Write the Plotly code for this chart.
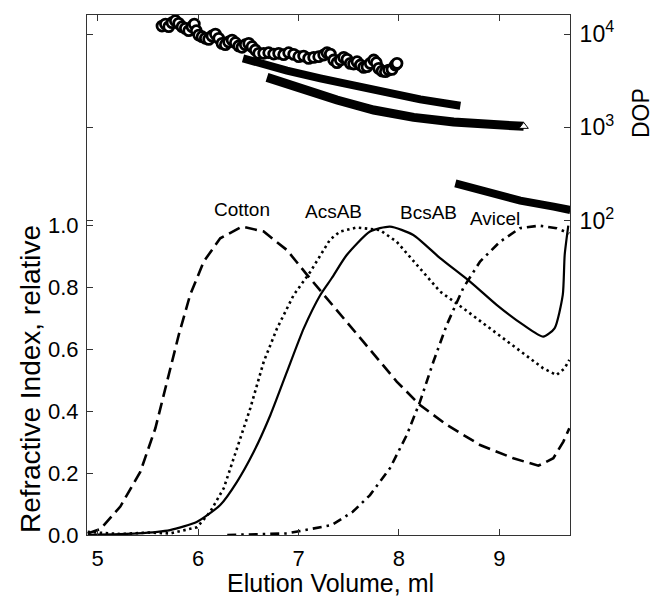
import plotly.graph_objects as go

# ---------------- Refractive index traces (left axis) ----------------
cotton_x = [4.90, 5.03, 5.225, 5.425, 5.574, 5.69, 5.807, 5.92, 6.056, 6.22, 6.437, 6.653, 6.885,
            7.085, 7.314, 7.645, 7.978, 8.21, 8.476, 8.808, 9.14, 9.389, 9.538, 9.638, 9.697]
cotton_y = [0.005, 0.02, 0.092, 0.205, 0.345, 0.496, 0.647, 0.776, 0.884, 0.959, 0.997, 0.981, 0.921,
            0.841, 0.754, 0.625, 0.496, 0.42, 0.356, 0.291, 0.248, 0.224, 0.248, 0.302, 0.345]

acsab_x = [4.90, 5.225, 5.5, 5.72, 5.99, 6.12, 6.255, 6.387, 6.52, 6.653, 6.786, 6.952, 7.118,
           7.314, 7.413, 7.58, 7.81, 7.978, 8.177, 8.41, 8.64, 8.907, 9.17, 9.437, 9.57, 9.651, 9.697]
acsab_y = [0.01, 0.003, 0.008, 0.005, 0.025, 0.075, 0.151, 0.28, 0.41, 0.56, 0.668, 0.776, 0.851,
           0.955, 0.981, 0.994, 0.986, 0.948, 0.873, 0.787, 0.733, 0.668, 0.604, 0.539, 0.517, 0.539, 0.566]

bcsab_x = [4.90, 5.39, 5.72, 5.99, 6.22, 6.387, 6.554, 6.72, 6.885, 7.052, 7.217, 7.33, 7.48,
           7.712, 7.911, 8.143, 8.41, 8.708, 8.973, 9.239, 9.437, 9.55, 9.632, 9.651, 9.687]
bcsab_y = [0.0, 0.005, 0.016, 0.043, 0.097, 0.172, 0.269, 0.388, 0.528, 0.668, 0.776, 0.83, 0.905,
           0.981, 0.997, 0.970, 0.895, 0.819, 0.744, 0.679, 0.641, 0.668, 0.776, 0.905, 1.0]

avicel_x = [6.29, 6.885, 7.33, 7.54, 7.712, 7.911, 8.078, 8.21, 8.343, 8.476, 8.64, 8.808, 9.007,
            9.206, 9.40, 9.57, 9.697]
avicel_y = [0.0, 0.005, 0.032, 0.075, 0.129, 0.216, 0.323, 0.431, 0.56, 0.679, 0.798, 0.884, 0.948,
            0.992, 1.0, 0.992, 0.975]

# ---------------- DOP traces (right log axis) ----------------
cotton_dop_x = [5.640, 5.674, 5.707, 5.740, 5.773, 5.806, 5.840, 5.873, 5.906, 5.939, 5.962, 5.982,
                6.006, 6.039, 6.072, 6.105, 6.138, 6.172, 6.205, 6.238, 6.271, 6.304, 6.338, 6.371,
                6.404, 6.437, 6.470, 6.504, 6.537, 6.570, 6.603, 6.653, 6.703, 6.753, 6.802, 6.852,
                6.902, 6.952, 7.002, 7.051, 7.101, 7.151, 7.201, 7.251, 7.284, 7.317, 7.350, 7.383,
                7.417, 7.450, 7.483, 7.516, 7.549, 7.583, 7.616, 7.649, 7.682, 7.715, 7.749, 7.775,
                7.799, 7.832, 7.865, 7.898, 7.931, 7.964, 7.981]
cotton_dop = [12180, 12800, 11990, 13230, 13900, 13010, 11990, 11500, 10860, 11990, 12800, 10860,
              9750, 9360, 8990, 8770, 9520, 10000, 8990, 7940, 7690, 8210, 8620, 8080,
              7440, 7200, 7690, 7940, 7320, 6740, 6210, 6210, 6310, 6100, 6210, 6005,
              6310, 6050, 5720, 5810, 5485, 5620, 5720, 5960, 6310, 6100, 5265, 4930,
              5265, 5620, 5350, 4850, 4770, 5050, 4655, 4390, 4465, 4850, 5265, 4930,
              4285, 4010, 3945, 4110, 4180, 4655, 4850]

acsab_dop_x = [6.447, 6.620, 6.885, 7.217, 7.549, 7.882, 8.213, 8.612]
acsab_dop = [5485, 4850, 4045, 3349, 2772, 2312, 1993, 1706]

bcsab_dop_x = [6.686, 7.018, 7.383, 7.749, 8.147, 8.545, 8.877, 9.243]
bcsab_dop = [3432, 2617, 1962, 1532, 1279, 1140, 1085, 1024]

avicel_dop_x = [8.562, 8.877, 9.209, 9.541, 9.707]
avicel_dop = [251, 199, 164, 141, 130]

# ---------------- Labels ----------------
sample_names = ["Cotton", "AcsAB", "BcsAB", "Avicel"]
label_x = [6.434, 7.347, 8.293, 8.957]
label_y = [1.051, 1.045, 1.042, 1.024]

x_ticks = [5, 6, 7, 8, 9]
ri_ticks = [0.0, 0.2, 0.4, 0.6, 0.8, 1.0]
ri_ticktext = ["0.0", "0.2", "0.4", "0.6", "0.8", "1.0"]
dop_ticks = [100, 1000, 10000]
dop_ticktext = ["10<sup>2</sup>", "10<sup>3</sup>", "10<sup>4</sup>"]

FONT = "Arial, Liberation Sans, sans-serif"
INK = "#000000"

fig = go.Figure()

fig.add_trace(go.Scatter(x=cotton_x, y=cotton_y, mode="lines", yaxis="y",
                         line=dict(color=INK, width=2.6, dash="12px,6px")))
fig.add_trace(go.Scatter(x=acsab_x, y=acsab_y, mode="lines", yaxis="y",
                         line=dict(color=INK, width=2.6, dash="2.5px,3.5px")))
fig.add_trace(go.Scatter(x=bcsab_x, y=bcsab_y, mode="lines", yaxis="y",
                         line=dict(color=INK, width=2.2, shape="spline", smoothing=0.6)))
fig.add_trace(go.Scatter(x=avicel_x, y=avicel_y, mode="lines", yaxis="y",
                         line=dict(color=INK, width=2.6, dash="9px,5px,2.5px,5px")))

fig.add_trace(go.Scatter(x=acsab_dop_x, y=acsab_dop, mode="lines", yaxis="y2",
                         line=dict(color=INK, width=8)))
fig.add_trace(go.Scatter(x=bcsab_dop_x, y=bcsab_dop, mode="lines", yaxis="y2",
                         line=dict(color=INK, width=9)))
fig.add_trace(go.Scatter(x=[bcsab_dop_x[-1]], y=[bcsab_dop[-1]], mode="markers", yaxis="y2",
                         marker=dict(symbol="triangle-up", size=8, color="white",
                                     line=dict(color=INK, width=1))))
fig.add_trace(go.Scatter(x=avicel_dop_x, y=avicel_dop, mode="lines", yaxis="y3",
                         line=dict(color=INK, width=8)))
fig.add_trace(go.Scatter(x=cotton_dop_x, y=cotton_dop, mode="markers", yaxis="y2",
                         marker=dict(symbol="circle", size=10, color="white",
                                     line=dict(color=INK, width=2.8))))

for name, lx, ly in zip(sample_names, label_x, label_y):
    fig.add_annotation(x=lx, y=ly, xref="x", yref="y", text=name, showarrow=False,
                       xanchor="center", yanchor="middle",
                       font=dict(family=FONT, size=19, color=INK))

fig.add_annotation(x=-0.118, y=0.30, xref="paper", yref="paper", text="Refractive Index, relative",
                   textangle=-90, showarrow=False, xanchor="center", yanchor="middle",
                   font=dict(family=FONT, size=28, color=INK))
fig.add_annotation(x=0.505, y=-0.092, xref="paper", yref="paper", text="Elution Volume, ml",
                   showarrow=False, xanchor="center", yanchor="middle",
                   font=dict(family=FONT, size=25, color=INK))
fig.add_annotation(x=1.147, y=0.8115, xref="paper", yref="paper", text="DOP",
                   textangle=-90, showarrow=False, xanchor="center", yanchor="middle",
                   font=dict(family=FONT, size=23, color=INK))

axis_line = "#333333"
fig.update_layout(
    width=655, height=598,
    margin=dict(l=87, r=85, t=15, b=63),
    paper_bgcolor="white", plot_bgcolor="white",
    showlegend=False,
    font=dict(family=FONT, color=INK),
    xaxis=dict(range=[4.893, 9.704], tickvals=x_ticks, ticks="inside", ticklen=6,
               tickcolor=axis_line, showline=True, linecolor=axis_line, linewidth=1,
               mirror="ticks", showgrid=False, zeroline=False,
               tickfont=dict(family=FONT, size=22, color=INK), ticklabelstandoff=4),
    yaxis=dict(range=[0, 1.681], tickvals=ri_ticks, ticktext=ri_ticktext, ticks="inside",
               ticklen=6, tickcolor=axis_line, showline=True, linecolor=axis_line, linewidth=1,
               showgrid=False, zeroline=False,
               tickfont=dict(family=FONT, size=22, color=INK), ticklabelstandoff=3),
    yaxis2=dict(overlaying="y", side="right", type="log", range=[-1.370, 4.204],
                tickvals=dop_ticks, ticktext=dop_ticktext, ticks="inside", ticklen=6,
                tickcolor=axis_line, showline=True, linecolor=axis_line, linewidth=1,
                showgrid=False, zeroline=False,
                tickfont=dict(family=FONT, size=23, color=INK), ticklabelstandoff=4),
    yaxis3=dict(overlaying="y", side="left", type="log", range=[-1.370, 4.204],
                tickvals=dop_ticks, ticks="inside", ticklen=6, tickcolor=axis_line,
                showticklabels=False, showline=False, showgrid=False, zeroline=False),
)

# remove the browser's default 8 px body margin so the figure fills the window exactly
fig.write_html("out.html",
               config={"displayModeBar": False},
               post_script="document.body.style.margin='0px';"
                           "document.documentElement.style.overflow='hidden';")
